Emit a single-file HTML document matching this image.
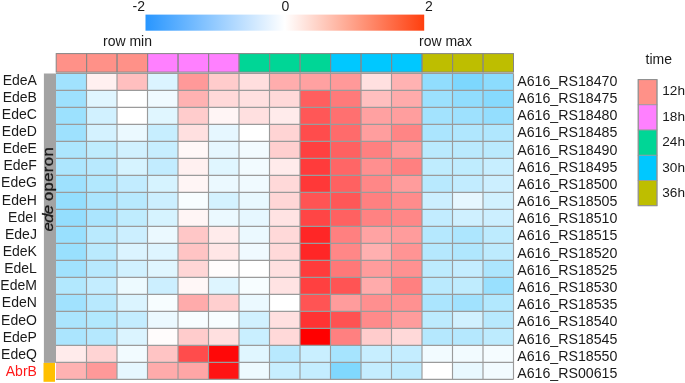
<!DOCTYPE html>
<html><head><meta charset="utf-8"><title>heatmap</title>
<style>
html,body{margin:0;padding:0;background:#fff;}
body{width:685px;height:383px;overflow:hidden;}
svg{display:block;}
text{font-family:"Liberation Sans",Arial,Helvetica,sans-serif;fill:#1a1a1a;}
</style></head><body>
<svg width="685" height="383" viewBox="0 0 685 383">
<defs><linearGradient id="cb" x1="0" y1="0" x2="1" y2="0"><stop offset="0" stop-color="#2896ff"/><stop offset="0.5" stop-color="#ffffff"/><stop offset="1" stop-color="#ff3f0e"/></linearGradient></defs>
<rect x="0" y="0" width="685" height="383" fill="#ffffff"/>
<rect x="145.5" y="14.6" width="278.7" height="16.1" fill="url(#cb)"/>
<text x="145" y="11.3" font-size="14" text-anchor="end">-2</text>
<text x="285.5" y="11.3" font-size="14" text-anchor="middle">0</text>
<text x="425" y="11.3" font-size="14">2</text>
<text x="152" y="45.7" font-size="14" text-anchor="end">row min</text>
<text x="419" y="45.7" font-size="14">row max</text>
<rect x="56.20" y="53.6" width="30.30" height="18.5" fill="#ff9188" stroke="#858585" stroke-width="1"/>
<rect x="86.70" y="53.6" width="30.30" height="18.5" fill="#ff9188" stroke="#858585" stroke-width="1"/>
<rect x="117.20" y="53.6" width="30.30" height="18.5" fill="#ff9188" stroke="#858585" stroke-width="1"/>
<rect x="147.70" y="53.6" width="30.30" height="18.5" fill="#ff80ff" stroke="#858585" stroke-width="1"/>
<rect x="178.20" y="53.6" width="30.30" height="18.5" fill="#ff80ff" stroke="#858585" stroke-width="1"/>
<rect x="208.70" y="53.6" width="30.30" height="18.5" fill="#ff80ff" stroke="#858585" stroke-width="1"/>
<rect x="239.20" y="53.6" width="30.30" height="18.5" fill="#00d696" stroke="#858585" stroke-width="1"/>
<rect x="269.70" y="53.6" width="30.30" height="18.5" fill="#00d696" stroke="#858585" stroke-width="1"/>
<rect x="300.20" y="53.6" width="30.30" height="18.5" fill="#00d696" stroke="#858585" stroke-width="1"/>
<rect x="330.70" y="53.6" width="30.30" height="18.5" fill="#00c8ff" stroke="#858585" stroke-width="1"/>
<rect x="361.20" y="53.6" width="30.30" height="18.5" fill="#00c8ff" stroke="#858585" stroke-width="1"/>
<rect x="391.70" y="53.6" width="30.30" height="18.5" fill="#00c8ff" stroke="#858585" stroke-width="1"/>
<rect x="422.20" y="53.6" width="30.30" height="18.5" fill="#bebe00" stroke="#858585" stroke-width="1"/>
<rect x="452.70" y="53.6" width="30.30" height="18.5" fill="#bebe00" stroke="#858585" stroke-width="1"/>
<rect x="483.20" y="53.6" width="30.30" height="18.5" fill="#bebe00" stroke="#858585" stroke-width="1"/>
<rect x="56.00" y="73.40" width="30.55" height="17.04" fill="#a1e2fe"/>
<rect x="86.50" y="73.40" width="30.55" height="17.04" fill="#fff0f0"/>
<rect x="117.00" y="73.40" width="30.55" height="17.04" fill="#ffbfbf"/>
<rect x="147.50" y="73.40" width="30.55" height="17.04" fill="#dbf4ff"/>
<rect x="178.00" y="73.40" width="30.55" height="17.04" fill="#ff9999"/>
<rect x="208.50" y="73.40" width="30.55" height="17.04" fill="#ffcccc"/>
<rect x="239.00" y="73.40" width="30.55" height="17.04" fill="#ffdede"/>
<rect x="269.50" y="73.40" width="30.55" height="17.04" fill="#ffadad"/>
<rect x="300.00" y="73.40" width="30.55" height="17.04" fill="#ffa1a1"/>
<rect x="330.50" y="73.40" width="30.55" height="17.04" fill="#ff9999"/>
<rect x="361.00" y="73.40" width="30.55" height="17.04" fill="#ffe0e0"/>
<rect x="391.50" y="73.40" width="30.55" height="17.04" fill="#ffb2b2"/>
<rect x="422.00" y="73.40" width="30.55" height="17.04" fill="#91ddfe"/>
<rect x="452.50" y="73.40" width="30.55" height="17.04" fill="#7dd7fe"/>
<rect x="483.00" y="73.40" width="30.55" height="17.04" fill="#8cdcfe"/>
<rect x="56.00" y="90.39" width="30.55" height="17.04" fill="#9ee1fe"/>
<rect x="86.50" y="90.39" width="30.55" height="17.04" fill="#e0f6ff"/>
<rect x="117.00" y="90.39" width="30.55" height="17.04" fill="#ffffff"/>
<rect x="147.50" y="90.39" width="30.55" height="17.04" fill="#f0faff"/>
<rect x="178.00" y="90.39" width="30.55" height="17.04" fill="#ffb2b2"/>
<rect x="208.50" y="90.39" width="30.55" height="17.04" fill="#ffd9d9"/>
<rect x="239.00" y="90.39" width="30.55" height="17.04" fill="#ffe0e0"/>
<rect x="269.50" y="90.39" width="30.55" height="17.04" fill="#ffd9d9"/>
<rect x="300.00" y="90.39" width="30.55" height="17.04" fill="#ff5e5e"/>
<rect x="330.50" y="90.39" width="30.55" height="17.04" fill="#ff7a7a"/>
<rect x="361.00" y="90.39" width="30.55" height="17.04" fill="#ffbfbf"/>
<rect x="391.50" y="90.39" width="30.55" height="17.04" fill="#ffabab"/>
<rect x="422.00" y="90.39" width="30.55" height="17.04" fill="#9ce1fe"/>
<rect x="452.50" y="90.39" width="30.55" height="17.04" fill="#91ddfe"/>
<rect x="483.00" y="90.39" width="30.55" height="17.04" fill="#87dafe"/>
<rect x="56.00" y="107.39" width="30.55" height="17.04" fill="#9ce1fe"/>
<rect x="86.50" y="107.39" width="30.55" height="17.04" fill="#d1f1ff"/>
<rect x="117.00" y="107.39" width="30.55" height="17.04" fill="#ffffff"/>
<rect x="147.50" y="107.39" width="30.55" height="17.04" fill="#e0f6ff"/>
<rect x="178.00" y="107.39" width="30.55" height="17.04" fill="#ffcccc"/>
<rect x="208.50" y="107.39" width="30.55" height="17.04" fill="#fff5f5"/>
<rect x="239.00" y="107.39" width="30.55" height="17.04" fill="#ffe0e0"/>
<rect x="269.50" y="107.39" width="30.55" height="17.04" fill="#ffebeb"/>
<rect x="300.00" y="107.39" width="30.55" height="17.04" fill="#ff5757"/>
<rect x="330.50" y="107.39" width="30.55" height="17.04" fill="#ff7070"/>
<rect x="361.00" y="107.39" width="30.55" height="17.04" fill="#ffa1a1"/>
<rect x="391.50" y="107.39" width="30.55" height="17.04" fill="#ff9e9e"/>
<rect x="422.00" y="107.39" width="30.55" height="17.04" fill="#a3e3fe"/>
<rect x="452.50" y="107.39" width="30.55" height="17.04" fill="#9ee1fe"/>
<rect x="483.00" y="107.39" width="30.55" height="17.04" fill="#94defe"/>
<rect x="56.00" y="124.38" width="30.55" height="17.04" fill="#9ee1fe"/>
<rect x="86.50" y="124.38" width="30.55" height="17.04" fill="#d4f2ff"/>
<rect x="117.00" y="124.38" width="30.55" height="17.04" fill="#ebf9ff"/>
<rect x="147.50" y="124.38" width="30.55" height="17.04" fill="#c7eeff"/>
<rect x="178.00" y="124.38" width="30.55" height="17.04" fill="#ffe0e0"/>
<rect x="208.50" y="124.38" width="30.55" height="17.04" fill="#e6f7ff"/>
<rect x="239.00" y="124.38" width="30.55" height="17.04" fill="#ffffff"/>
<rect x="269.50" y="124.38" width="30.55" height="17.04" fill="#ffd4d4"/>
<rect x="300.00" y="124.38" width="30.55" height="17.04" fill="#ff4c4c"/>
<rect x="330.50" y="124.38" width="30.55" height="17.04" fill="#ff6b6b"/>
<rect x="361.00" y="124.38" width="30.55" height="17.04" fill="#ff9e9e"/>
<rect x="391.50" y="124.38" width="30.55" height="17.04" fill="#ff8585"/>
<rect x="422.00" y="124.38" width="30.55" height="17.04" fill="#abe5fe"/>
<rect x="452.50" y="124.38" width="30.55" height="17.04" fill="#b0e7fe"/>
<rect x="483.00" y="124.38" width="30.55" height="17.04" fill="#b0e7fe"/>
<rect x="56.00" y="141.38" width="30.55" height="17.04" fill="#ade6fe"/>
<rect x="86.50" y="141.38" width="30.55" height="17.04" fill="#bfecfe"/>
<rect x="117.00" y="141.38" width="30.55" height="17.04" fill="#d1f1ff"/>
<rect x="147.50" y="141.38" width="30.55" height="17.04" fill="#c7eeff"/>
<rect x="178.00" y="141.38" width="30.55" height="17.04" fill="#fff7f7"/>
<rect x="208.50" y="141.38" width="30.55" height="17.04" fill="#e6f7ff"/>
<rect x="239.00" y="141.38" width="30.55" height="17.04" fill="#f2fbff"/>
<rect x="269.50" y="141.38" width="30.55" height="17.04" fill="#ffcfcf"/>
<rect x="300.00" y="141.38" width="30.55" height="17.04" fill="#ff4040"/>
<rect x="330.50" y="141.38" width="30.55" height="17.04" fill="#ff6161"/>
<rect x="361.00" y="141.38" width="30.55" height="17.04" fill="#ff8080"/>
<rect x="391.50" y="141.38" width="30.55" height="17.04" fill="#ff9999"/>
<rect x="422.00" y="141.38" width="30.55" height="17.04" fill="#baeafe"/>
<rect x="452.50" y="141.38" width="30.55" height="17.04" fill="#baeafe"/>
<rect x="483.00" y="141.38" width="30.55" height="17.04" fill="#baeafe"/>
<rect x="56.00" y="158.37" width="30.55" height="17.04" fill="#ade6fe"/>
<rect x="86.50" y="158.37" width="30.55" height="17.04" fill="#b8e9fe"/>
<rect x="117.00" y="158.37" width="30.55" height="17.04" fill="#d6f3ff"/>
<rect x="147.50" y="158.37" width="30.55" height="17.04" fill="#c2ecff"/>
<rect x="178.00" y="158.37" width="30.55" height="17.04" fill="#fff0f0"/>
<rect x="208.50" y="158.37" width="30.55" height="17.04" fill="#e0f6ff"/>
<rect x="239.00" y="158.37" width="30.55" height="17.04" fill="#f2fbff"/>
<rect x="269.50" y="158.37" width="30.55" height="17.04" fill="#ffebeb"/>
<rect x="300.00" y="158.37" width="30.55" height="17.04" fill="#ff3b3b"/>
<rect x="330.50" y="158.37" width="30.55" height="17.04" fill="#ff6666"/>
<rect x="361.00" y="158.37" width="30.55" height="17.04" fill="#ff8f8f"/>
<rect x="391.50" y="158.37" width="30.55" height="17.04" fill="#ff8080"/>
<rect x="422.00" y="158.37" width="30.55" height="17.04" fill="#bfecfe"/>
<rect x="452.50" y="158.37" width="30.55" height="17.04" fill="#bfecfe"/>
<rect x="483.00" y="158.37" width="30.55" height="17.04" fill="#c7eeff"/>
<rect x="56.00" y="175.37" width="30.55" height="17.04" fill="#9ee1fe"/>
<rect x="86.50" y="175.37" width="30.55" height="17.04" fill="#b2e8fe"/>
<rect x="117.00" y="175.37" width="30.55" height="17.04" fill="#c2ecff"/>
<rect x="147.50" y="175.37" width="30.55" height="17.04" fill="#d6f3ff"/>
<rect x="178.00" y="175.37" width="30.55" height="17.04" fill="#fff5f5"/>
<rect x="208.50" y="175.37" width="30.55" height="17.04" fill="#ebf9ff"/>
<rect x="239.00" y="175.37" width="30.55" height="17.04" fill="#f0faff"/>
<rect x="269.50" y="175.37" width="30.55" height="17.04" fill="#ffd9d9"/>
<rect x="300.00" y="175.37" width="30.55" height="17.04" fill="#ff3838"/>
<rect x="330.50" y="175.37" width="30.55" height="17.04" fill="#ff6161"/>
<rect x="361.00" y="175.37" width="30.55" height="17.04" fill="#ff8787"/>
<rect x="391.50" y="175.37" width="30.55" height="17.04" fill="#ff9c9c"/>
<rect x="422.00" y="175.37" width="30.55" height="17.04" fill="#b8e9fe"/>
<rect x="452.50" y="175.37" width="30.55" height="17.04" fill="#c2ecff"/>
<rect x="483.00" y="175.37" width="30.55" height="17.04" fill="#ccefff"/>
<rect x="56.00" y="192.36" width="30.55" height="17.04" fill="#94defe"/>
<rect x="86.50" y="192.36" width="30.55" height="17.04" fill="#abe5fe"/>
<rect x="117.00" y="192.36" width="30.55" height="17.04" fill="#b8e9fe"/>
<rect x="147.50" y="192.36" width="30.55" height="17.04" fill="#ccefff"/>
<rect x="178.00" y="192.36" width="30.55" height="17.04" fill="#f7fdff"/>
<rect x="208.50" y="192.36" width="30.55" height="17.04" fill="#d4f2ff"/>
<rect x="239.00" y="192.36" width="30.55" height="17.04" fill="#e8f8ff"/>
<rect x="269.50" y="192.36" width="30.55" height="17.04" fill="#ffd6d6"/>
<rect x="300.00" y="192.36" width="30.55" height="17.04" fill="#ff5454"/>
<rect x="330.50" y="192.36" width="30.55" height="17.04" fill="#ff5757"/>
<rect x="361.00" y="192.36" width="30.55" height="17.04" fill="#ff8080"/>
<rect x="391.50" y="192.36" width="30.55" height="17.04" fill="#ff8c8c"/>
<rect x="422.00" y="192.36" width="30.55" height="17.04" fill="#ccefff"/>
<rect x="452.50" y="192.36" width="30.55" height="17.04" fill="#e6f7ff"/>
<rect x="483.00" y="192.36" width="30.55" height="17.04" fill="#d1f1ff"/>
<rect x="56.00" y="209.36" width="30.55" height="17.04" fill="#94defe"/>
<rect x="86.50" y="209.36" width="30.55" height="17.04" fill="#abe5fe"/>
<rect x="117.00" y="209.36" width="30.55" height="17.04" fill="#bfecfe"/>
<rect x="147.50" y="209.36" width="30.55" height="17.04" fill="#d6f3ff"/>
<rect x="178.00" y="209.36" width="30.55" height="17.04" fill="#fff5f5"/>
<rect x="208.50" y="209.36" width="30.55" height="17.04" fill="#ebf9ff"/>
<rect x="239.00" y="209.36" width="30.55" height="17.04" fill="#e6f7ff"/>
<rect x="269.50" y="209.36" width="30.55" height="17.04" fill="#ffe3e3"/>
<rect x="300.00" y="209.36" width="30.55" height="17.04" fill="#ff4545"/>
<rect x="330.50" y="209.36" width="30.55" height="17.04" fill="#ff6161"/>
<rect x="361.00" y="209.36" width="30.55" height="17.04" fill="#ff8282"/>
<rect x="391.50" y="209.36" width="30.55" height="17.04" fill="#ff8787"/>
<rect x="422.00" y="209.36" width="30.55" height="17.04" fill="#c2ecff"/>
<rect x="452.50" y="209.36" width="30.55" height="17.04" fill="#cff0ff"/>
<rect x="483.00" y="209.36" width="30.55" height="17.04" fill="#ccefff"/>
<rect x="56.00" y="226.35" width="30.55" height="17.04" fill="#99e0fe"/>
<rect x="86.50" y="226.35" width="30.55" height="17.04" fill="#baeafe"/>
<rect x="117.00" y="226.35" width="30.55" height="17.04" fill="#ccefff"/>
<rect x="147.50" y="226.35" width="30.55" height="17.04" fill="#ebf9ff"/>
<rect x="178.00" y="226.35" width="30.55" height="17.04" fill="#ffc7c7"/>
<rect x="208.50" y="226.35" width="30.55" height="17.04" fill="#ffebeb"/>
<rect x="239.00" y="226.35" width="30.55" height="17.04" fill="#ebf9ff"/>
<rect x="269.50" y="226.35" width="30.55" height="17.04" fill="#ffd9d9"/>
<rect x="300.00" y="226.35" width="30.55" height="17.04" fill="#ff2626"/>
<rect x="330.50" y="226.35" width="30.55" height="17.04" fill="#ff8080"/>
<rect x="361.00" y="226.35" width="30.55" height="17.04" fill="#ffa3a3"/>
<rect x="391.50" y="226.35" width="30.55" height="17.04" fill="#ff9c9c"/>
<rect x="422.00" y="226.35" width="30.55" height="17.04" fill="#b5e8fe"/>
<rect x="452.50" y="226.35" width="30.55" height="17.04" fill="#ade6fe"/>
<rect x="483.00" y="226.35" width="30.55" height="17.04" fill="#bdebfe"/>
<rect x="56.00" y="243.34" width="30.55" height="17.04" fill="#99e0fe"/>
<rect x="86.50" y="243.34" width="30.55" height="17.04" fill="#baeafe"/>
<rect x="117.00" y="243.34" width="30.55" height="17.04" fill="#dbf4ff"/>
<rect x="147.50" y="243.34" width="30.55" height="17.04" fill="#def5ff"/>
<rect x="178.00" y="243.34" width="30.55" height="17.04" fill="#ffc4c4"/>
<rect x="208.50" y="243.34" width="30.55" height="17.04" fill="#ffe6e6"/>
<rect x="239.00" y="243.34" width="30.55" height="17.04" fill="#f0faff"/>
<rect x="269.50" y="243.34" width="30.55" height="17.04" fill="#ffd9d9"/>
<rect x="300.00" y="243.34" width="30.55" height="17.04" fill="#ff2626"/>
<rect x="330.50" y="243.34" width="30.55" height="17.04" fill="#ff8787"/>
<rect x="361.00" y="243.34" width="30.55" height="17.04" fill="#ffb0b0"/>
<rect x="391.50" y="243.34" width="30.55" height="17.04" fill="#ff9494"/>
<rect x="422.00" y="243.34" width="30.55" height="17.04" fill="#b5e8fe"/>
<rect x="452.50" y="243.34" width="30.55" height="17.04" fill="#b0e7fe"/>
<rect x="483.00" y="243.34" width="30.55" height="17.04" fill="#bdebfe"/>
<rect x="56.00" y="260.34" width="30.55" height="17.04" fill="#a1e2fe"/>
<rect x="86.50" y="260.34" width="30.55" height="17.04" fill="#b8e9fe"/>
<rect x="117.00" y="260.34" width="30.55" height="17.04" fill="#d1f1ff"/>
<rect x="147.50" y="260.34" width="30.55" height="17.04" fill="#e0f6ff"/>
<rect x="178.00" y="260.34" width="30.55" height="17.04" fill="#ffd6d6"/>
<rect x="208.50" y="260.34" width="30.55" height="17.04" fill="#fffcfc"/>
<rect x="239.00" y="260.34" width="30.55" height="17.04" fill="#ffffff"/>
<rect x="269.50" y="260.34" width="30.55" height="17.04" fill="#ffe0e0"/>
<rect x="300.00" y="260.34" width="30.55" height="17.04" fill="#ff3b3b"/>
<rect x="330.50" y="260.34" width="30.55" height="17.04" fill="#ff7878"/>
<rect x="361.00" y="260.34" width="30.55" height="17.04" fill="#ff9c9c"/>
<rect x="391.50" y="260.34" width="30.55" height="17.04" fill="#ff9191"/>
<rect x="422.00" y="260.34" width="30.55" height="17.04" fill="#bdebfe"/>
<rect x="452.50" y="260.34" width="30.55" height="17.04" fill="#c4edff"/>
<rect x="483.00" y="260.34" width="30.55" height="17.04" fill="#ade6fe"/>
<rect x="56.00" y="277.33" width="30.55" height="17.04" fill="#b2e8fe"/>
<rect x="86.50" y="277.33" width="30.55" height="17.04" fill="#c4edff"/>
<rect x="117.00" y="277.33" width="30.55" height="17.04" fill="#edfaff"/>
<rect x="147.50" y="277.33" width="30.55" height="17.04" fill="#ccefff"/>
<rect x="178.00" y="277.33" width="30.55" height="17.04" fill="#fff7f7"/>
<rect x="208.50" y="277.33" width="30.55" height="17.04" fill="#def5ff"/>
<rect x="239.00" y="277.33" width="30.55" height="17.04" fill="#f7fdff"/>
<rect x="269.50" y="277.33" width="30.55" height="17.04" fill="#ffe3e3"/>
<rect x="300.00" y="277.33" width="30.55" height="17.04" fill="#ff4040"/>
<rect x="330.50" y="277.33" width="30.55" height="17.04" fill="#ff5454"/>
<rect x="361.00" y="277.33" width="30.55" height="17.04" fill="#ffabab"/>
<rect x="391.50" y="277.33" width="30.55" height="17.04" fill="#ff8080"/>
<rect x="422.00" y="277.33" width="30.55" height="17.04" fill="#baeafe"/>
<rect x="452.50" y="277.33" width="30.55" height="17.04" fill="#bfecfe"/>
<rect x="483.00" y="277.33" width="30.55" height="17.04" fill="#99e0fe"/>
<rect x="56.00" y="294.33" width="30.55" height="17.04" fill="#a1e2fe"/>
<rect x="86.50" y="294.33" width="30.55" height="17.04" fill="#b8e9fe"/>
<rect x="117.00" y="294.33" width="30.55" height="17.04" fill="#dbf4ff"/>
<rect x="147.50" y="294.33" width="30.55" height="17.04" fill="#f7fdff"/>
<rect x="178.00" y="294.33" width="30.55" height="17.04" fill="#ffabab"/>
<rect x="208.50" y="294.33" width="30.55" height="17.04" fill="#ffcfcf"/>
<rect x="239.00" y="294.33" width="30.55" height="17.04" fill="#ebf9ff"/>
<rect x="269.50" y="294.33" width="30.55" height="17.04" fill="#ffffff"/>
<rect x="300.00" y="294.33" width="30.55" height="17.04" fill="#ff5454"/>
<rect x="330.50" y="294.33" width="30.55" height="17.04" fill="#ff9c9c"/>
<rect x="361.00" y="294.33" width="30.55" height="17.04" fill="#ff8f8f"/>
<rect x="391.50" y="294.33" width="30.55" height="17.04" fill="#ff9191"/>
<rect x="422.00" y="294.33" width="30.55" height="17.04" fill="#abe5fe"/>
<rect x="452.50" y="294.33" width="30.55" height="17.04" fill="#a1e2fe"/>
<rect x="483.00" y="294.33" width="30.55" height="17.04" fill="#b2e8fe"/>
<rect x="56.00" y="311.32" width="30.55" height="17.04" fill="#abe5fe"/>
<rect x="86.50" y="311.32" width="30.55" height="17.04" fill="#b2e8fe"/>
<rect x="117.00" y="311.32" width="30.55" height="17.04" fill="#c4edff"/>
<rect x="147.50" y="311.32" width="30.55" height="17.04" fill="#ebf9ff"/>
<rect x="178.00" y="311.32" width="30.55" height="17.04" fill="#f7fdff"/>
<rect x="208.50" y="311.32" width="30.55" height="17.04" fill="#f7fdff"/>
<rect x="239.00" y="311.32" width="30.55" height="17.04" fill="#d1f1ff"/>
<rect x="269.50" y="311.32" width="30.55" height="17.04" fill="#ffe0e0"/>
<rect x="300.00" y="311.32" width="30.55" height="17.04" fill="#ff3333"/>
<rect x="330.50" y="311.32" width="30.55" height="17.04" fill="#ff5252"/>
<rect x="361.00" y="311.32" width="30.55" height="17.04" fill="#ff8a8a"/>
<rect x="391.50" y="311.32" width="30.55" height="17.04" fill="#ff9c9c"/>
<rect x="422.00" y="311.32" width="30.55" height="17.04" fill="#bdebfe"/>
<rect x="452.50" y="311.32" width="30.55" height="17.04" fill="#d1f1ff"/>
<rect x="483.00" y="311.32" width="30.55" height="17.04" fill="#b8e9fe"/>
<rect x="56.00" y="328.32" width="30.55" height="17.04" fill="#abe5fe"/>
<rect x="86.50" y="328.32" width="30.55" height="17.04" fill="#b5e8fe"/>
<rect x="117.00" y="328.32" width="30.55" height="17.04" fill="#dbf4ff"/>
<rect x="147.50" y="328.32" width="30.55" height="17.04" fill="#fffcfc"/>
<rect x="178.00" y="328.32" width="30.55" height="17.04" fill="#ffcccc"/>
<rect x="208.50" y="328.32" width="30.55" height="17.04" fill="#ffe0e0"/>
<rect x="239.00" y="328.32" width="30.55" height="17.04" fill="#c9efff"/>
<rect x="269.50" y="328.32" width="30.55" height="17.04" fill="#ffd9d9"/>
<rect x="300.00" y="328.32" width="30.55" height="17.04" fill="#ff0000"/>
<rect x="330.50" y="328.32" width="30.55" height="17.04" fill="#ff8080"/>
<rect x="361.00" y="328.32" width="30.55" height="17.04" fill="#ffcccc"/>
<rect x="391.50" y="328.32" width="30.55" height="17.04" fill="#ffd9d9"/>
<rect x="422.00" y="328.32" width="30.55" height="17.04" fill="#b5e8fe"/>
<rect x="452.50" y="328.32" width="30.55" height="17.04" fill="#b5e8fe"/>
<rect x="483.00" y="328.32" width="30.55" height="17.04" fill="#bdebfe"/>
<rect x="56.00" y="345.31" width="30.55" height="17.04" fill="#ffebeb"/>
<rect x="86.50" y="345.31" width="30.55" height="17.04" fill="#ffd4d4"/>
<rect x="117.00" y="345.31" width="30.55" height="17.04" fill="#f2fbff"/>
<rect x="147.50" y="345.31" width="30.55" height="17.04" fill="#ffc4c4"/>
<rect x="178.00" y="345.31" width="30.55" height="17.04" fill="#ff4c4c"/>
<rect x="208.50" y="345.31" width="30.55" height="17.04" fill="#ff0808"/>
<rect x="239.00" y="345.31" width="30.55" height="17.04" fill="#e0f6ff"/>
<rect x="269.50" y="345.31" width="30.55" height="17.04" fill="#b8e9fe"/>
<rect x="300.00" y="345.31" width="30.55" height="17.04" fill="#c9efff"/>
<rect x="330.50" y="345.31" width="30.55" height="17.04" fill="#a6e4fe"/>
<rect x="361.00" y="345.31" width="30.55" height="17.04" fill="#c7eeff"/>
<rect x="391.50" y="345.31" width="30.55" height="17.04" fill="#c4edff"/>
<rect x="422.00" y="345.31" width="30.55" height="17.04" fill="#f2fbff"/>
<rect x="452.50" y="345.31" width="30.55" height="17.04" fill="#f2fbff"/>
<rect x="483.00" y="345.31" width="30.55" height="17.04" fill="#f5fcff"/>
<rect x="56.00" y="362.31" width="30.55" height="17.04" fill="#ffb2b2"/>
<rect x="86.50" y="362.31" width="30.55" height="17.04" fill="#ff9999"/>
<rect x="117.00" y="362.31" width="30.55" height="17.04" fill="#e6f7ff"/>
<rect x="147.50" y="362.31" width="30.55" height="17.04" fill="#ffabab"/>
<rect x="178.00" y="362.31" width="30.55" height="17.04" fill="#ffa6a6"/>
<rect x="208.50" y="362.31" width="30.55" height="17.04" fill="#ff1414"/>
<rect x="239.00" y="362.31" width="30.55" height="17.04" fill="#edfaff"/>
<rect x="269.50" y="362.31" width="30.55" height="17.04" fill="#c7eeff"/>
<rect x="300.00" y="362.31" width="30.55" height="17.04" fill="#c4edff"/>
<rect x="330.50" y="362.31" width="30.55" height="17.04" fill="#80d8fe"/>
<rect x="361.00" y="362.31" width="30.55" height="17.04" fill="#c4edff"/>
<rect x="391.50" y="362.31" width="30.55" height="17.04" fill="#bdebfe"/>
<rect x="422.00" y="362.31" width="30.55" height="17.04" fill="#ffffff"/>
<rect x="452.50" y="362.31" width="30.55" height="17.04" fill="#e8f8ff"/>
<rect x="483.00" y="362.31" width="30.55" height="17.04" fill="#f2fbff"/>
<path d="M86.50 73.40V379.30M117.00 73.40V379.30M147.50 73.40V379.30M178.00 73.40V379.30M208.50 73.40V379.30M239.00 73.40V379.30M269.50 73.40V379.30M300.00 73.40V379.30M330.50 73.40V379.30M361.00 73.40V379.30M391.50 73.40V379.30M422.00 73.40V379.30M452.50 73.40V379.30M483.00 73.40V379.30M513.50 73.40V379.30M56.00 73.40H513.50M56.00 90.39H513.50M56.00 107.39H513.50M56.00 124.38H513.50M56.00 141.38H513.50M56.00 158.37H513.50M56.00 175.37H513.50M56.00 192.36H513.50M56.00 209.36H513.50M56.00 226.35H513.50M56.00 243.34H513.50M56.00 260.34H513.50M56.00 277.33H513.50M56.00 294.33H513.50M56.00 311.32H513.50M56.00 328.32H513.50M56.00 345.31H513.50M56.00 362.31H513.50M56.00 379.30H513.50" fill="none" stroke="#9b9b9b" stroke-width="1.15"/>
<rect x="43.9" y="73.5" width="12.1" height="289.4" fill="#a3a3a3"/>
<rect x="43.5" y="362.9" width="11.5" height="18.9" fill="#ffc000"/>
<text transform="translate(52.7 231.4) rotate(-90) scale(1.19 1)" font-size="14" stroke="#1a1a1a" stroke-width="0.3"><tspan font-style="italic" letter-spacing="-0.6">ede</tspan> <tspan letter-spacing="0.33">operon</tspan></text>
<text x="36.9" y="84.60" font-size="14" text-anchor="end">EdeA</text>
<text x="517.2" y="85.95" font-size="14.2">A616_RS18470</text>
<text x="36.9" y="101.74" font-size="14" text-anchor="end">EdeB</text>
<text x="517.2" y="103.12" font-size="14.2">A616_RS18475</text>
<text x="36.9" y="118.88" font-size="14" text-anchor="end">EdeC</text>
<text x="517.2" y="120.29" font-size="14.2">A616_RS18480</text>
<text x="36.9" y="136.02" font-size="14" text-anchor="end">EdeD</text>
<text x="517.2" y="137.46" font-size="14.2">A616_RS18485</text>
<text x="36.9" y="153.16" font-size="14" text-anchor="end">EdeE</text>
<text x="517.2" y="154.63" font-size="14.2">A616_RS18490</text>
<text x="36.9" y="170.30" font-size="14" text-anchor="end">EdeF</text>
<text x="517.2" y="171.80" font-size="14.2">A616_RS18495</text>
<text x="36.9" y="187.44" font-size="14" text-anchor="end">EdeG</text>
<text x="517.2" y="188.97" font-size="14.2">A616_RS18500</text>
<text x="36.9" y="204.58" font-size="14" text-anchor="end">EdeH</text>
<text x="517.2" y="206.14" font-size="14.2">A616_RS18505</text>
<text x="36.9" y="221.72" font-size="14" text-anchor="end">EdeI</text>
<text x="517.2" y="223.31" font-size="14.2">A616_RS18510</text>
<text x="36.9" y="238.86" font-size="14" text-anchor="end">EdeJ</text>
<text x="517.2" y="240.48" font-size="14.2">A616_RS18515</text>
<text x="36.9" y="256.00" font-size="14" text-anchor="end">EdeK</text>
<text x="517.2" y="257.65" font-size="14.2">A616_RS18520</text>
<text x="36.9" y="273.14" font-size="14" text-anchor="end">EdeL</text>
<text x="517.2" y="274.82" font-size="14.2">A616_RS18525</text>
<text x="36.9" y="290.28" font-size="14" text-anchor="end">EdeM</text>
<text x="517.2" y="291.99" font-size="14.2">A616_RS18530</text>
<text x="36.9" y="307.42" font-size="14" text-anchor="end">EdeN</text>
<text x="517.2" y="309.16" font-size="14.2">A616_RS18535</text>
<text x="36.9" y="324.56" font-size="14" text-anchor="end">EdeO</text>
<text x="517.2" y="326.33" font-size="14.2">A616_RS18540</text>
<text x="36.9" y="341.70" font-size="14" text-anchor="end">EdeP</text>
<text x="517.2" y="343.50" font-size="14.2">A616_RS18545</text>
<text x="36.9" y="358.84" font-size="14" text-anchor="end">EdeQ</text>
<text x="517.2" y="360.67" font-size="14.2">A616_RS18550</text>
<text x="36.9" y="375.98" font-size="14" text-anchor="end" style="fill:#ff1a1a">AbrB</text>
<text x="517.2" y="377.84" font-size="14.2">A616_RS00615</text>
<text x="645.5" y="64.2" font-size="14">time</text>
<rect x="638.2" y="79.60" width="18.8" height="25.22" fill="#ff9188" stroke="#9a9a9a" stroke-width="0.8"/>
<text x="662.3" y="95.20" font-size="13.6">12h</text>
<rect x="638.2" y="104.82" width="18.8" height="25.22" fill="#ff80ff" stroke="#9a9a9a" stroke-width="0.8"/>
<text x="662.3" y="120.75" font-size="13.6">18h</text>
<rect x="638.2" y="130.04" width="18.8" height="25.22" fill="#00d696" stroke="#9a9a9a" stroke-width="0.8"/>
<text x="662.3" y="146.30" font-size="13.6">24h</text>
<rect x="638.2" y="155.26" width="18.8" height="25.22" fill="#00c8ff" stroke="#9a9a9a" stroke-width="0.8"/>
<text x="662.3" y="171.85" font-size="13.6">30h</text>
<rect x="638.2" y="180.48" width="18.8" height="25.22" fill="#bebe00" stroke="#9a9a9a" stroke-width="0.8"/>
<text x="662.3" y="197.40" font-size="13.6">36h</text>
<rect x="638.2" y="79.6" width="18.8" height="126.10" fill="none" stroke="#8f8f8f" stroke-width="1"/>
</svg>
</body></html>
